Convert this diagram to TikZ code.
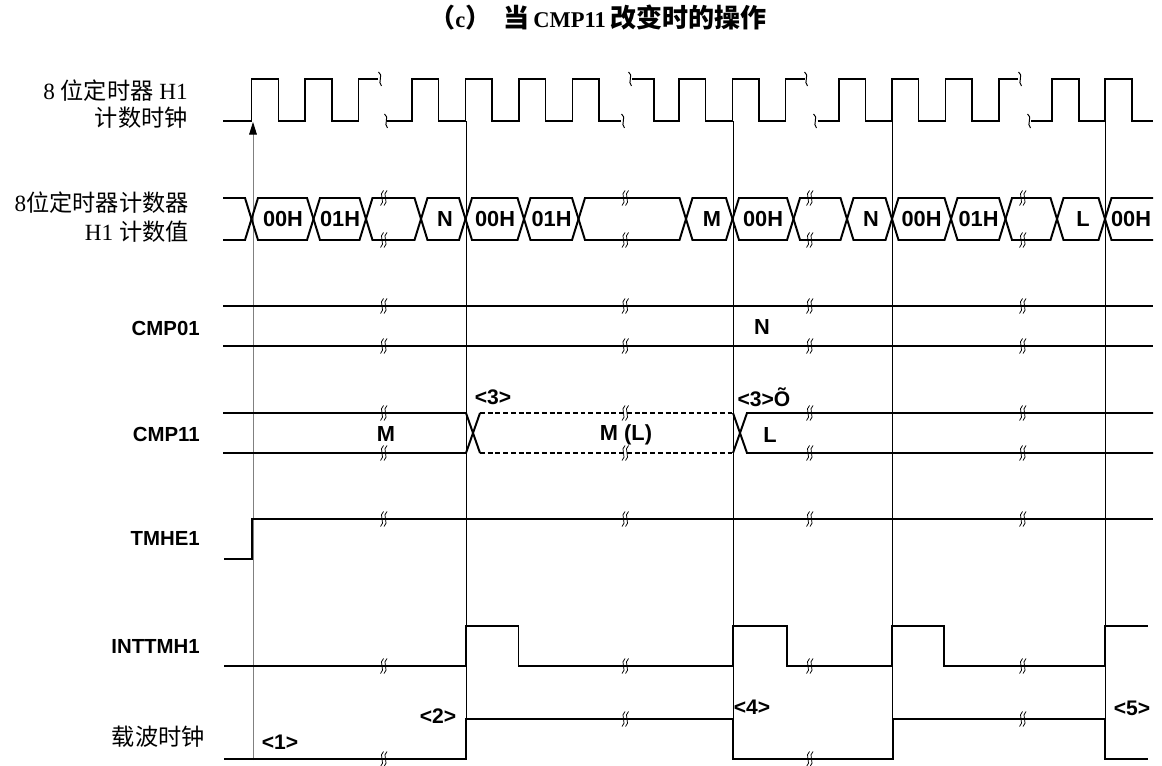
\documentclass[tikz,border=0pt]{standalone}
\usepackage{fontspec}
\setmainfont{Liberation Serif}
\setsansfont{Liberation Sans}
\newfontfamily\cjk{Noto Sans CJK SC}
\usetikzlibrary{arrows.meta}
\definecolor{guidegray}{HTML}{808080}

% break mark on a signal line: two small S strokes
\newcommand{\gapmark}[2]{%
  \draw[line width=0.55pt] ({#1+0.5},{#2-7.5}) .. controls ({#1-5},{#2-4}) and ({#1+3},{#2+4}) .. ({#1-2.5},{#2+7.5});
  \draw[line width=0.55pt] ({#1+4},{#2-7.5}) .. controls ({#1-1.5},{#2-4}) and ({#1+6.5},{#2+4}) .. ({#1+1},{#2+7.5});
}
% single squiggle at a cut of the clock
\newcommand{\clkcut}[2]{%
  \draw[line width=0.7pt] ({#1-1.5},{#2-7}) .. controls ({#1+4},{#2-4}) and ({#1-3},{#2+3}) .. ({#1+1.5},{#2+7});
}
% title CJK part
\newcommand{\tcjk}[1]{{\cjk\fontsize{18.5}{20}\selectfont #1}}

\begin{document}
\begin{tikzpicture}[x=0.025cm, y=-0.025cm,
  sig/.style={line width=1.4pt, line join=miter},
  guide/.style={line width=0.5pt},
  lbl/.style={font=\sffamily\bfseries\fontsize{14.5}{16}\selectfont, anchor=east, inner sep=0pt},
  cnlbl/.style={font=\fontsize{16.5}{19}\selectfont, align=right, anchor=east, inner sep=0pt},
  val/.style={font=\sffamily\bfseries\fontsize{15.5}{17}\selectfont, inner sep=0pt},
  tag/.style={font=\sffamily\bfseries\fontsize{15}{17}\selectfont, inner sep=0pt}]

\useasboundingbox (0,0) rectangle (1162,766);

% Title
\node[font=\bfseries\fontsize{16}{18}\selectfont, inner sep=0pt, anchor=west] (title) at (429,18)
  {\tcjk{（}c\tcjk{）}\hspace{9pt}\tcjk{当}\hspace{2.5pt}CMP11\hspace{3pt}\tcjk{改变时的操作}};

% Signal names
\node[cnlbl] (nclk) at (188,104) {8 {\cjk 位定时器} H1\\{\cjk 计数时钟}};
\node[cnlbl, font=\fontsize{16.5}{21}\selectfont] (ncnt) at (189,217) {8{\cjk 位定时器计数器}\\H1 {\cjk 计数值}};
\node[lbl] (ncmp0) at (200,328) {CMP01};
\node[lbl] (ncmp1) at (200,434) {CMP11};
\node[lbl] (ntmhe) at (200,538) {TMHE1};
\node[lbl] (nint) at (200,646) {INTTMH1};
\node[cnlbl] (ncar) at (205,737) {{\cjk 载波时钟}};

% Guide lines
\draw[guidegray, line width=0.6pt, -{Triangle[length=9pt, width=5.5pt, color=black]}]
  (253,760) -- (253,122);
\foreach \gx in {466,733,892,1105}
  \draw[guide] (\gx,121) -- (\gx,760);

% Count clock (high 79, low 121)
\draw[sig] (223,121) \foreach \r in {251.5,305} {-- (\r,121) -- (\r,79) -- ({\r+27},79) -- ({\r+27},121)}
  -- (358.5,121) -- (358.5,79) -- (378,79);
\draw[sig] (387,121) \foreach \r in {412,465.5,519,572.5} {-- (\r,121) -- (\r,79) -- ({\r+26.5},79) -- ({\r+26.5},121)}
  -- (621,121);
\draw[sig] (632,79) -- (654,79) -- (654,121) \foreach \r in {679,732.5} {-- (\r,121) -- (\r,79) -- ({\r+26.5},79) -- ({\r+26.5},121)}
  -- (785.5,121) -- (785.5,79) -- (805,79);
\draw[sig] (817.5,121) \foreach \r in {839,892,945.5} {-- (\r,121) -- (\r,79) -- ({\r+26.5},79) -- ({\r+26.5},121)}
  -- (999,121) -- (999,79) -- (1018,79);
\draw[sig] (1031,121) \foreach \r in {1052,1105} {-- (\r,121) -- (\r,79) -- ({\r+26.5},79) -- ({\r+26.5},121)}
  -- (1153,121);
\foreach \cx/\cy in {380/79, 386/121, 623/121, 630/79, 806/79, 815/121, 1020/79, 1029/121}
  {\clkcut{\cx}{\cy}}

% Counter value (top 198, bottom 240)
\draw[sig] (223,198) -- (245,198) -- (251.5,219) -- (245,240) -- (223,240);
\foreach \a/\b in {251.5/313.5, 313.5/366, 366/421, 421/465.5, 465.5/524, 524/578.5, 578.5/686,
  686/732.5, 732.5/793.5, 793.5/847, 847/892, 892/951, 951/1005.5, 1005.5/1057, 1057/1105}
  \draw[sig] (\a,219) -- ({\a+6.5},198) -- ({\b-6.5},198) -- (\b,219) -- ({\b-6.5},240) -- ({\a+6.5},240) -- cycle;
\draw[sig] (1153,198) -- (1111.5,198) -- (1105,219) -- (1111.5,240) -- (1153,240);
\foreach \vx/\v [count=\i] in {283/00H, 340/01H, 445/N, 495/00H, 551.5/01H, 712/M, 763/00H,
  871/N, 921.5/00H, 978.5/01H, 1083/L, 1131/00H}
  \node[val] (cnt\i) at (\vx,219) {\v};

% CMP01
\draw[sig] (223,306) -- (1153,306);
\draw[sig] (223,346) -- (1153,346);
\node[val] (cmp0v) at (762,327) {N};

% CMP11
\draw[sig] (223,413) -- (466,413) -- (480,453);
\draw[sig] (223,453) -- (466,453) -- (480,413);
\draw[sig, dash pattern=on 3.5pt off 2pt] (480,413) -- (733,413);
\draw[sig, dash pattern=on 3.5pt off 2pt] (480,453) -- (733,453);
\draw[sig] (733,413) -- (747,453) -- (1153,453);
\draw[sig] (733,453) -- (747,413) -- (1153,413);
\node[val] (cmp1a) at (386,434) {M};
\node[val] (cmp1b) at (626,435) {M (L)};
\node[val] (cmp1c) at (770,435) {L};
\node[tag] (t3a) at (493,397) {<3>};
\node[tag] (t3b) at (764,397) {<3>Õ};

% TMHE1
\draw[sig] (224,559) -- (252,559) -- (252,519) -- (1153,519);

% INTTMH1
\draw[sig] (224,666) -- (466,666) -- (466,626) -- (518.5,626) -- (518.5,666) -- (733,666) -- (733,626)
  -- (787,626) -- (787,666) -- (892,666) -- (892,626) -- (944,626) -- (944,666) -- (1105,666)
  -- (1105,626) -- (1148,626);

% Carrier clock
\draw[sig] (224,759) -- (466,759) -- (466,719) -- (733,719) -- (733,759) -- (893,759) -- (893,719)
  -- (1105,719) -- (1105,759) -- (1148,759);
\node[tag] (t1) at (280,742) {<1>};
\node[tag] (t2) at (438,716) {<2>};
\node[tag] (t4) at (752,707) {<4>};
\node[tag] (t5) at (1132,708) {<5>};

% Break marks
\foreach \bx in {383,624.5,809,1022}
  \foreach \by in {198,240,306,346,413,453,519,666}
    {\gapmark{\bx}{\by}}
\foreach \bx/\by in {383/759, 624.5/719, 809/759, 1022/719}
  {\gapmark{\bx}{\by}}

\end{tikzpicture}
\end{document}
